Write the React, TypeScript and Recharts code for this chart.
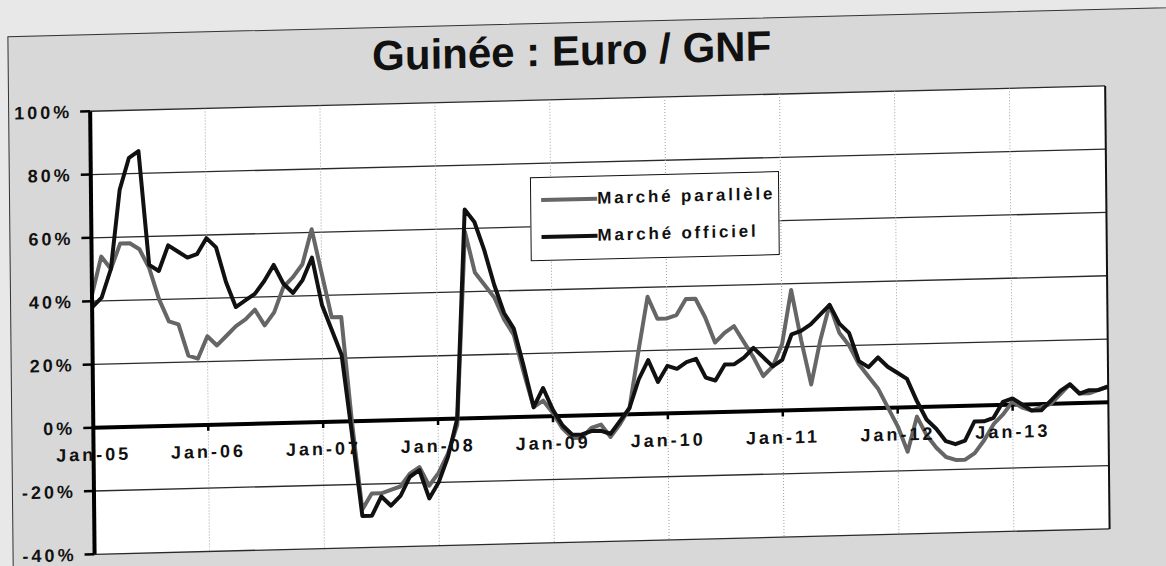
import { LineChart, Line, XAxis, YAxis, CartesianGrid, ReferenceLine, Legend } from "recharts";

const FONT = '"Liberation Sans", Arial, sans-serif';

// categories: Jan-05 .. Nov-13, monthly
const monthNames = ["Jan", "Feb", "Mar", "Apr", "May", "Jun", "Jul", "Aug", "Sep", "Oct", "Nov", "Dec"];
const years = ["05", "06", "07", "08", "09", "10", "11", "12", "13"];
const months = years.flatMap((y) => monthNames.map((m) => `${m}-${y}`)).slice(0, 107);
const janTicks = years.map((y) => `Jan-${y}`);

const seriesNames = ["Marché parallèle", "Marché officiel"];

// % change
const parallele = [
  42, 54, 50, 58, 58, 56, 50, 40, 33, 32, 22, 21,
  28, 25, 28, 31, 33, 36, 31, 35, 43, 46, 50, 61,
  47, 33, 33, 0, -28, -23, -23, -22, -21, -17, -15, -21,
  -17, -11, -2, 59, 46, 42, 38, 31, 26, 14, 3, 5,
  1, -4, -7, -7, -4, -3, -7, -3, 2, 20, 37, 30,
  30, 31, 36, 36, 30, 22, 25, 27, 22, 17, 11, 14,
  21, 38, 22, 8, 22, 33, 24, 20, 14, 10, 6, 0,
  -6, -14, -3, -9, -13, -16, -17, -17, -15, -11, -6, -3,
  1, -1, -2, -1, 0, 3, 6, 3, 3, 4, 5,
];
const officiel = [
  38, 41, 50, 75, 85, 87, 51, 49, 57, 55, 53, 54,
  59, 56, 45, 37, 39, 41, 45, 50, 44, 41, 45, 52,
  37, 29, 21, -4, -30, -30, -24, -27, -24, -18, -16, -25,
  -20, -12, 0, 66, 62, 53, 42, 33, 28, 16, 3, 9,
  2, -3, -6, -6, -5, -5, -6, -2, 2, 11, 17, 10,
  15, 14, 16, 17, 11, 10, 15, 15, 17, 20, 17, 14,
  16, 24, 25, 27, 30, 33, 27, 24, 15, 13, 16, 13,
  11, 9, 2, -4, -7, -11, -12, -11, -5, -5, -4, 1,
  2, 0, -2, -2, 1, 4, 6, 3, 4, 4, 5,
];
const yTicks = [-40, -20, 0, 20, 40, 60, 80, 100];

const data = months.map((month, i) => ({ month, parallele: parallele[i], officiel: officiel[i] }));

const W = 1166;
const H = 566;
const MARGIN = { top: 99, right: 59, bottom: 0, left: 0 };
const X_AXIS_H = 24;
const PLOT_H = H - MARGIN.top - MARGIN.bottom - X_AXIS_H;
const Y_MIN = -40;
const Y_MAX = 100;
// distance from plot bottom up to the 0% line, so the month labels sit under it
const ZERO_UP = (PLOT_H * (0 - Y_MIN)) / (Y_MAX - Y_MIN);

const JanTick = (props: any) => {
  const { x, y, payload } = props;
  const zy = y - ZERO_UP;
  return (
    <g>
      <line x1={x} x2={x} y1={zy} y2={zy + 6} stroke="#000" strokeWidth={2.5} />
      <text
        x={x}
        y={zy + 33}
        textAnchor="middle"
        fontFamily={FONT}
        fontWeight={700}
        fontSize={18}
        letterSpacing={3}
        fill="#111"
      >
        {payload.value}
      </text>
    </g>
  );
};

const LegendBox = (props: any) => {
  const items = [...(props.payload || [])].sort(
    (a: any, b: any) => seriesNames.indexOf(a.value) - seriesNames.indexOf(b.value)
  );
  return (
    <div
      style={{
        width: 249,
        height: 84,
        boxSizing: "border-box",
        border: "1.5px solid #111",
        background: "#fff",
        paddingTop: 3,
      }}
    >
      {items.map((e: any) => (
        <div key={e.value} style={{ display: "flex", alignItems: "center", height: 37 }}>
          <span style={{ width: 56, height: 4, marginLeft: 10, background: e.color, display: "inline-block" }} />
          <span
            style={{
              fontFamily: FONT,
              fontWeight: 700,
              fontSize: 17,
              letterSpacing: 2.8,
              color: "#111",
              whiteSpace: "nowrap",
            }}
          >
            {e.value}
          </span>
        </div>
      ))}
    </div>
  );
};

export default function App() {
  return (
    <div style={{ position: "absolute", left: 0, top: 0, width: W, height: H, overflow: "hidden", background: "#e8e8e8" }}>
      {/* the scan is slightly skewed; follow it */}
      <div
        style={{
          position: "absolute",
          left: 0,
          top: 0,
          width: W,
          height: H,
          transform: "matrix(1, -0.025, 0.01, 1, 0, 0)",
          transformOrigin: "583px 283px",
        }}
      >
        <div
          style={{
            position: "absolute",
            left: 10,
            top: 22,
            width: 1220,
            height: 620,
            background: "#d8d8d8",
            border: "1.5px solid #333",
          }}
        />
        <svg style={{ position: "absolute", left: 0, top: 0 }} width={W} height={100}>
          <text x={574} y={65} textAnchor="middle" fontFamily={FONT} fontWeight={700} fontSize={42} fill="#111">
            Guinée : Euro / GNF
          </text>
        </svg>
        <div style={{ position: "absolute", left: 0, top: 0 }}>
          <LineChart width={W} height={H} data={data} margin={MARGIN}>
            <CartesianGrid fill="#fff" vertical={false} stroke="#2a2a2a" strokeWidth={1.3} />
            <CartesianGrid horizontal={false} stroke="#a0a0a0" strokeDasharray="1 2" strokeWidth={1} />
            <XAxis
              dataKey="month"
              ticks={janTicks}
              interval={0}
              height={X_AXIS_H}
              axisLine={false}
              tickLine={false}
              tickSize={0}
              tickMargin={0}
              tick={<JanTick />}
            />
            <YAxis
              type="number"
              domain={[Y_MIN, Y_MAX]}
              ticks={yTicks}
              interval={0}
              width={92}
              tickFormatter={(v: number) => `${v}%`}
              axisLine={{ stroke: "#000", strokeWidth: 4 }}
              tickLine={{ stroke: "#000", strokeWidth: 2.5 }}
              tickSize={10}
              tickMargin={8}
              tick={{ fontFamily: FONT, fontWeight: 700, fontSize: 18, fill: "#111", letterSpacing: 3 }}
            />
            <ReferenceLine x={months[months.length - 1]} stroke="#111" strokeWidth={2} />
            <ReferenceLine y={0} stroke="#000" strokeWidth={4} />
            <Legend
              layout="horizontal"
              verticalAlign="middle"
              align="center"
              content={<LegendBox />}
              wrapperStyle={{ left: 531, top: 176, width: 249, height: 84 }}
            />
            <Line
              name="Marché parallèle"
              dataKey="parallele"
              type="linear"
              stroke="#666"
              strokeWidth={4}
              dot={false}
              strokeLinejoin="round"
              isAnimationActive={false}
            />
            <Line
              name="Marché officiel"
              dataKey="officiel"
              type="linear"
              stroke="#111"
              strokeWidth={4}
              dot={false}
              strokeLinejoin="round"
              isAnimationActive={false}
            />
          </LineChart>
        </div>
      </div>
    </div>
  );
}
